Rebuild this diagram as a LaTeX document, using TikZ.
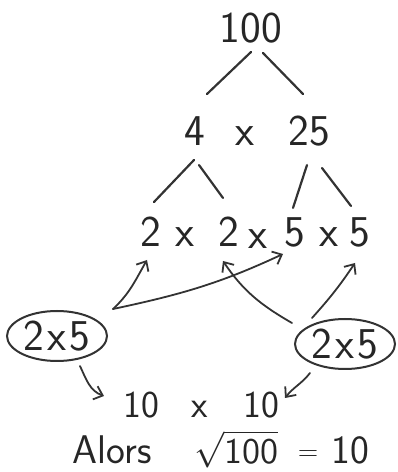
\documentclass[tikz,border=0pt]{standalone}
\usepackage{graphicx}
\usetikzlibrary{shapes.geometric,arrows.meta}
\tikzset{
  tok/.style={font=\fontsize{44}{44}\sffamily, text=black!85, inner sep=1pt, anchor=base},
  tokb/.style={tok, font=\fontsize{38}{38}\sffamily},
  tokc/.style={tok, font=\fontsize{40}{40}\sffamily},
  grp/.style={tok, anchor=center, draw=black!80, line width=2pt, ellipse,
    minimum width=100pt, minimum height=50pt, inner sep=0pt},
  branch/.style={draw=black!80, line width=2.2pt, line cap=round},
  arr/.style={branch, line width=1.8pt, -{Straight Barb[length=8pt,width=14pt]}},
}
\newcommand{\pairtxt}{2\kern3pt x\kern3pt 5}
\begin{document}
\begin{tikzpicture}[x=1pt, y=1pt]
\useasboundingbox (0,0) rectangle (398,472);
% tree
\node[tok] (n100) at (251,429) {100};
\node[tok] (n4) at (195,326) {4};
\node[tok] (m1) at (245,326) {x};
\node[tok] (n25) at (309,326) {25};
\node[tok] (f1) at (151,225) {2};
\node[tok] (m2) at (185,225) {x};
\node[tok] (f2) at (229,225) {2};
\node[tok] (m3) at (258,223) {x};
\node[tok] (f3) at (295,225) {5};
\node[tok] (m4) at (329,225) {x};
\node[tok] (f4) at (360,225) {5};
\draw[branch] ([shift={(0,-9)}]n100.base) -- ([shift={(12,52)}]n4.base);
\draw[branch] ([shift={(12,-10)}]n100.base) -- ([shift={(-6,52)}]n25.base);
\draw[branch] ([shift={(-1,-14)}]n4.base) -- ([shift={(3,45)}]f1.base);
\draw[branch] ([shift={(4,-19)}]n4.base) -- ([shift={(-6,49)}]f2.base);
\draw[branch] ([shift={(-2,-19)}]n25.base) -- ([shift={(-2,39)}]f3.base);
\draw[branch] ([shift={(13,-22)}]n25.base) -- ([shift={(-9,41)}]f4.base);
% pairs
\node[grp] (pl) at (57,136) {\pairtxt};
\node[grp] (pr) at (345,128) {\pairtxt};
\node[tokb] (r1) at (141,54) {10};
\node[tokb] (m5) at (200,54) {x};
\node[tokb] (r2) at (261,54) {10};
\draw[arr] ([shift={(56,27)}]pl.center) to[out=43,in=240] ([shift={(-4,-13)}]f1.base);
\draw[arr] ([shift={(56,27)}]pl.center) to[out=12,in=205] ([shift={(-12,-7)}]f3.base);
\draw[arr] ([shift={(-53,21)}]pr.center) to[out=150,in=-56] ([shift={(-6,-14)}]f2.base);
\draw[arr] ([shift={(-33,26)}]pr.center) to[out=48,in=236] ([shift={(-5,-16)}]f4.base);
\draw[arr] ([shift={(23,-30)}]pl.center) to[out=-65,in=160] ([shift={(-37,22)}]r1.base);
\draw[arr] ([shift={(-35,-29)}]pr.center) to[out=-128,in=52] ([shift={(24,20)}]r2.base);
% result
\node[tokc] (alors) at (112,9) {Alors};
\node[tokc] (root) at (236,9) {\raisebox{0pt}[36pt][6pt]{\scalebox{3.6}{\fontsize{10}{10}\selectfont$\sqrt{\mbox{100}}$}}};
\node[tokc, font=\fontsize{28}{28}\sffamily] (eq) at (308,12) {=};
\node[tokc] (res) at (350,9) {10};
\end{tikzpicture}
\end{document}
